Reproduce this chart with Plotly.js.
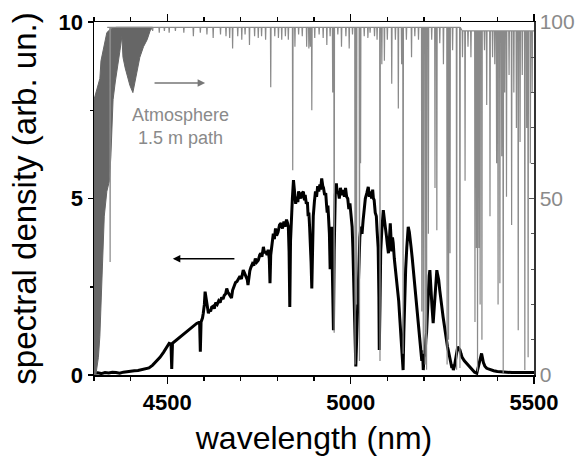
<!DOCTYPE html>
<html><head><meta charset="utf-8">
<script src="https://cdn.plot.ly/plotly-3.0.1.min.js"></script>
<style>body{margin:0;background:#fff}#chart{width:579px;height:458px}</style>
</head><body><div id="chart"></div>
<script>
// Emission spectrum (left axis, arb. un.)
const specWl = [
4300,4310,4320,4330,4340,4350,4360,4370,4380,4390,
4400,4410,4420,4430,4440,4450,4460,4470,4480,4490,
4500,4505,4510,4512,4514,4520,4530,4540,4550,4560,
4570,4580,4588,4590,4592,4596,4598,4601,4603,4605,
4607,4610,4612,4615,4618,4621,4625,4628,4632,4636,
4640,4644,4648,4652,4655,4659,4662,4665,4668,4672,
4675,4678,4682,4686,4690,4694,4698,4702,4707,4710,
4712,4715,4718,4720,4723,4725,4728,4732,4736,4740,
4744,4748,4752,4755,4758,4762,4765,4768,4772,4775,
4778,4780,4782,4784,4787,4789,4792,4795,4798,4802,
4806,4810,4814,4818,4821,4825,4828,4830,4832,4834,
4836,4838,4841,4844,4846,4848,4850,4853,4856,4858,
4861,4864,4867,4871,4874,4876,4879,4882,4884,4886,
4888,4890,4892,4894,4896,4898,4901,4904,4907,4910,
4913,4916,4918,4921,4924,4926,4929,4932,4934,4936,
4938,4940,4942,4944,4946,4948,4950,4953,4955,4956,
4958,4961,4963,4966,4969,4972,4976,4980,4983,4986,
4989,4992,4995,4998,5001,5004,5006,5008,5011,5014,
5016,5018,5020,5022,5025,5028,5031,5034,5037,5040,
5044,5048,5051,5054,5057,5060,5062,5064,5067,5070,
5072,5075,5077,5078,5080,5082,5085,5089,5092,5095,
5098,5100,5103,5106,5108,5110,5112,5114,5116,5119,
5122,5125,5128,5131,5134,5136,5138,5141,5143,5145,
5148,5150,5153,5155,5157,5160,5162,5165,5168,5171,
5174,5176,5178,5180,5182,5184,5187,5190,5192,5194,
5196,5198,5200,5203,5205,5207,5210,5212,5214,5216,
5218,5220,5222,5225,5228,5230,5232,5235,5237,5240,
5243,5246,5249,5252,5255,5258,5260,5262,5264,5266,
5269,5272,5274,5276,5278,5280,5283,5286,5289,5292,
5295,5298,5301,5304,5310,5316,5322,5330,5338,5344,
5350,5354,5357,5362,5366,5371,5380,5390,5400,5410,
5420,5440,5460,5480,5500];
const specVal = [
0.05,0.06,0.04,0.07,0.06,0.08,0.07,0.05,0.08,0.1,
0.1,0.12,0.13,0.15,0.17,0.2,0.28,0.38,0.5,0.65,
0.82,0.9,0.88,0.17,0.9,0.95,1.04,1.12,1.2,1.3,
1.38,1.46,1.5,0.66,1.5,1.62,1.75,2.0,2.36,2.2,
2.0,1.8,1.75,1.85,1.8,1.92,1.95,1.88,2.05,2.0,
2.1,2.05,2.2,2.15,2.25,2.3,2.45,2.35,2.3,2.25,
2.18,2.4,2.5,2.62,2.65,2.75,2.8,2.72,2.97,2.9,
2.85,2.78,2.7,2.55,2.85,2.95,3.05,3.15,3.1,3.3,
3.2,3.25,3.4,3.45,3.35,3.63,3.45,3.5,3.4,3.55,
3.3,2.6,3.4,3.6,3.8,4.0,3.85,4.15,3.95,4.05,
4.25,4.3,4.15,4.35,4.2,4.4,4.3,4.2,3.5,1.93,
3.8,4.4,5.0,5.52,5.2,5.1,4.85,5.05,4.9,5.2,
5.05,5.0,5.15,5.19,4.95,5.1,4.85,4.9,4.5,4.6,
4.2,3.8,3.2,2.45,3.6,4.5,4.9,5.2,5.05,5.35,
5.2,5.4,5.25,5.57,5.35,5.3,5.1,5.15,4.85,4.6,
4.8,4.39,4.0,3.0,3.8,4.2,3.0,1.27,3.5,4.67,
5.1,5.43,5.15,5.2,5.0,5.3,5.1,5.24,5.05,5.3,
5.05,5.0,4.7,4.86,4.5,4.2,3.6,3.0,1.5,0.24,
0.9,1.8,2.6,3.5,3.9,4.2,4.0,4.39,4.7,5.0,
5.15,5.33,5.05,5.2,5.0,5.25,5.0,4.96,4.6,4.5,
4.1,3.6,2.2,0.71,2.0,3.5,4.1,4.67,4.4,4.2,
3.9,3.7,3.45,3.9,4.3,3.9,3.5,3.9,3.74,3.3,
3.0,2.8,2.5,2.1,1.6,1.2,0.8,0.4,0.14,1.2,
2.5,3.0,3.6,3.9,4.2,4.05,3.9,3.6,3.3,2.97,
2.7,2.5,2.2,2.1,1.8,1.56,1.2,0.9,0.6,0.4,
0.7,0.14,0.5,0.6,1.0,1.2,1.9,2.5,2.8,2.97,
2.7,2.4,1.9,1.47,1.9,2.2,2.6,2.97,2.85,2.7,
2.4,2.2,1.9,1.65,1.4,1.2,1.05,0.9,0.8,0.71,
0.55,0.4,0.3,0.2,0.3,0.14,0.25,0.4,0.6,0.8,
0.75,0.71,0.6,0.5,0.4,0.33,0.25,0.15,0.08,0.05,
0.3,0.55,0.61,0.35,0.25,0.19,0.15,0.12,0.1,0.09,
0.08,0.07,0.07,0.07,0.07];

// Atmosphere transmission (right axis, %): dense CO2 band envelopes
const atmUpWl = [4300,4303,4310,4316,4319,4327,4335,4345,4360,4460];
const atmUpT  = [78,79,82,84,89,93,97,98,98.5,98.5];
const atmLoWl = [4300,4305,4308,4312,4316,4322,4328,4335,4342,4346,4349,4352,4358,4363,4371,4376,4379,4385,4390,4398,4406,4412,4418,4425,4435,4445,4453,4460];
const atmLoT  = [0,0,1,5,11,25,45,52,55,62,69,78,83,87,92,96,90,87,85,82,80,83,86,90,93,95,97.5,98.5];

// Individual absorption lines: centre wavelength (nm) and transmission minimum (%)
const lineWl = [4344,4460,4478,4492,4505,4522,4545,4571,4590,4608,4625,4645,4660,4670,4678,4692,4703,4712,4724,4738,4748,4757,4768,4782,4793,4803,4812,4822,4830,4842,4848,4858,4868,4880,4886,4890,4894,4902,4914,4925,4935,4944,4951,4955,4965,4975,4987,4996,5005,5012,5016,5024,5027,5037,5047,5053,5065,5072,5080,5085,5092,5100,5112,5122,5130,5139,5143,5152,5166,5175,5185,5194,5198,5203,5207,5212,5221,5230,5235,5243,5253,5263,5267,5271,5278,5289,5298,5305,5312,5320,5328,5339,5343,5346,5350,5353,5358,5365,5371,5380,5387,5393,5398,5402,5407,5412,5416,5420,5425,5432,5439,5445,5452,5457,5462,5468,5475,5480,5484,5490,5495];
const lineT  = [32,97.5,97,97.5,97,97.5,97,96,97,96.5,95.5,96.5,96,95.5,92.5,96,95,96.5,93.5,96,95.5,96,95,81.5,96,95.5,95,96,95,58,93,96.5,96,93,92.5,93,75,95.5,96.5,95.5,93.5,96,80,12,96.5,93,96,92.5,96.5,3,20,4,60,96,95.5,97,96,95,4,88,89,95,82.5,95,75.5,88,6,95,90,96,95,18,6,3,1.5,40,95,53,41,94,88,3,10,34.5,92,1.5,2,90,55,93,90,15,36,1,36,20,10,92,76.5,45,90,88,60,20,26,62,0.5,80,50.5,85,42.5,80,70,12.7,66,85,1.4,70,5,60,80];

// build traces
const polyX = atmUpWl.concat(atmLoWl.slice().reverse());
const polyY = atmUpT.concat(atmLoT.slice().reverse());
const base = w => (w < 5300 ? 98.5 : 97.5);
const ax = [4336], ay = [98.5];
lineWl.forEach((w, i) => { ax.push(w - 0.9, w, w + 0.9); ay.push(base(w), lineT[i], base(w)); });
ax.push(5500); ay.push(97.5);

const traces = [
  {x: polyX, y: polyY, yaxis: 'y2', type: 'scatter', mode: 'lines', fill: 'toself',
   fillcolor: '#666666', line: {color: '#666666', width: 1}, hoverinfo: 'skip'},
  {x: ax, y: ay, yaxis: 'y2', type: 'scatter', mode: 'lines',
   line: {color: '#8a8a8a', width: 1.2}},
  {x: specWl, y: specVal, type: 'scatter', mode: 'lines',
   line: {color: '#000000', width: 3}}
];

const FONT = 'Liberation Sans, Arial, sans-serif';
const layout = {
  width: 579, height: 458,
  margin: {l: 94, r: 45, t: 22, b: 83},
  paper_bgcolor: '#ffffff', plot_bgcolor: '#ffffff',
  showlegend: false,
  font: {family: FONT, color: '#000'},
  xaxis: {
    range: [4300, 5500], tick0: 4500, dtick: 500,
    ticks: 'outside', ticklen: 7, tickwidth: 1.5, tickcolor: '#000',
    showline: true, linecolor: '#000', linewidth: 1.5, mirror: 'ticks',
    showgrid: false, zeroline: false,
    tickfont: {family: FONT, size: 22, weight: 'bold', color: '#000'},
    minor: {dtick: 100, ticks: 'outside', ticklen: 4, tickcolor: '#000', showgrid: false},
    title: {text: 'wavelength (nm)', font: {family: FONT, size: 32, color: '#000'}, standoff: 12}
  },
  yaxis: {
    range: [0, 10], dtick: 5,
    ticks: 'outside', ticklen: 5, tickwidth: 1.5, tickcolor: '#000',
    showline: true, linecolor: '#000', linewidth: 1.5,
    showgrid: false, zeroline: false,
    tickfont: {family: FONT, size: 22, weight: 'bold', color: '#000'},
    minor: {dtick: 2.5, ticks: 'outside', ticklen: 3, tickcolor: '#000', showgrid: false},
    title: {text: 'spectral density (arb. un.)', font: {family: FONT, size: 33, color: '#000'}, standoff: 12}
  },
  yaxis2: {
    overlaying: 'y', side: 'right', range: [0, 100], dtick: 50,
    ticks: 'inside', ticklen: 5, tickwidth: 1, tickcolor: '#555',
    showline: true, linecolor: '#333', linewidth: 1.5,
    showgrid: false, zeroline: false,
    tickfont: {family: FONT, size: 21, color: '#8a8a8a'},
    minor: {dtick: 10, ticks: 'inside', ticklen: 3, tickcolor: '#555', showgrid: false}
  },
  annotations: [
    {text: 'Atmosphere<br>1.5 m path', xref: 'x', yref: 'y2', x: 4536, y: 70.3,
     showarrow: false, font: {family: FONT, size: 18, color: '#8a8a8a'}, align: 'center'},
    {text: '', xref: 'x', yref: 'y2', x: 4603, y: 82.7, axref: 'x', ayref: 'y2', ax: 4461, ay: 82.7,
     showarrow: true, arrowhead: 2, arrowsize: 1, arrowwidth: 1.5, arrowcolor: '#777'},
    {text: '', xref: 'x', yref: 'y', x: 4515, y: 3.29, axref: 'x', ayref: 'y', ax: 4687, ay: 3.29,
     showarrow: true, arrowhead: 2, arrowsize: 1, arrowwidth: 1.5, arrowcolor: '#000'}
  ]
};
if (specWl.length !== specVal.length || lineWl.length !== lineT.length) console.error('length mismatch');
Plotly.newPlot('chart', traces, layout, {displayModeBar: false, staticPlot: true});
</script>
</body></html>
